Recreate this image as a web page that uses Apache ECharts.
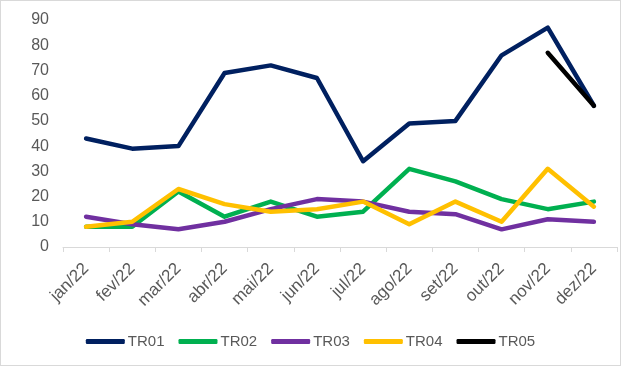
<!DOCTYPE html>
<html><head><meta charset="utf-8">
<script src="https://cdn.jsdelivr.net/npm/echarts@6/dist/echarts.min.js"></script>
<style>html,body{margin:0;padding:0;background:#fff}#c{width:619px;height:364px;border:1px solid #d9d9d9}</style>
</head><body><div id="c"></div>
<script>
const categories = ['jan/22','fev/22','mar/22','abr/22','mai/22','jun/22','jul/22','ago/22','set/22','out/22','nov/22','dez/22'];
const TR01 = [43,39,40,69,72,67,34,49,50,76,87,56];
const TR02 = [8,8,22,12,18,12,14,31,26,19,15,18];
const TR03 = [12,9,7,10,15,19,18,14,13,7,11,10];
const TR04 = [8,10,23,17,14,15,18,9,18,10,31,16];
const TR05 = [null,null,null,null,null,null,null,null,null,null,77,56];
const yTicks = [0,10,20,30,40,50,60,70,80,90];
const names = ['TR01','TR02','TR03','TR04','TR05'];
const colors = ['#002060','#00B050','#7030A0','#FFC000','#000000'];
const data = [TR01,TR02,TR03,TR04,TR05];
const chart = echarts.init(document.getElementById('c'));
chart.setOption({
  animation:false,
  textStyle:{fontFamily:'Liberation Sans'},
  grid:{left:62,right:3,top:19,bottom:118,containLabel:false},
  legend:{top:328,left:'center',itemWidth:39,itemHeight:5,itemGap:14,icon:'roundRect',
    textStyle:{color:'#595959',fontSize:15,padding:[0,0,0,-2]},data:names},
  xAxis:{type:'category',data:categories,boundaryGap:true,
    axisLine:{lineStyle:{color:'#d9d9d9'}},
    axisTick:{show:true,length:5,lineStyle:{color:'#d9d9d9'}},
    axisLabel:{rotate:45,color:'#595959',fontSize:17,margin:19}},
  yAxis:{type:'value',min:yTicks[0],max:yTicks[yTicks.length-1],interval:10,
    axisLine:{show:false},axisTick:{show:false},splitLine:{show:false},
    axisLabel:{color:'#595959',fontSize:16,margin:14}},
  series:data.map((d,i)=>({name:names[i],type:'line',data:d,symbol:'none',
    itemStyle:{color:colors[i]},
    lineStyle:{width:4.5,color:colors[i],cap:'round',join:'round'}}))
});
</script></body></html>
